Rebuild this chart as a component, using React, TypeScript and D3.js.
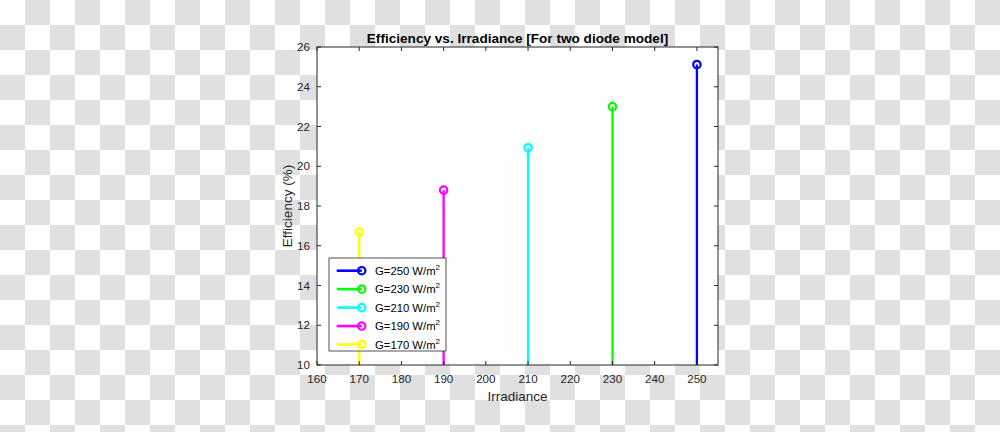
import React, { useEffect } from "react";
import * as d3 from "d3";

const irradiance = [250, 230, 210, 190, 170];
const efficiency = [25.12, 23.0, 20.93, 18.8, 16.7];
const seriesColors = ["#0000ff", "#00ff00", "#00ffff", "#ff00ff", "#ffff00"];
const legendLabels = ["G=250 W/m", "G=230 W/m", "G=210 W/m", "G=190 W/m", "G=170 W/m"];
const xTickValues = [160, 170, 180, 190, 200, 210, 220, 230, 240, 250];
const yTickValues = [10, 12, 14, 16, 18, 20, 22, 24, 26];

const W = 1000;
const H = 432;
const M = { left: 317, right: 718, top: 47, bottom: 365 };
const FONT = "'Liberation Sans', Arial, Helvetica, sans-serif";
const AX = "#262626";

export default function App() {
  useEffect(() => {
    document.body.style.margin = "0";
  }, []);

  const x = d3.scaleLinear().domain([160, 255]).range([M.left, M.right]);
  const y = d3.scaleLinear().domain([10, 26]).range([M.bottom, M.top]);
  const tick = 4;

  const legX = 329;
  const legY = 258;
  const legW = 117;
  const legH = 93;
  const rowY = (i: number) => legY + 12.7 + i * 18.45;

  return (
    <div style={{ position: "absolute", left: 0, top: 0 }}>
      <svg width={W} height={H} style={{ display: "block" }}>
        <defs>
          <pattern id="checker" width={50} height={50} patternUnits="userSpaceOnUse">
            <rect x={0} y={0} width={50} height={50} fill="#ffffff" />
            <rect x={25} y={0} width={25} height={25} fill="#e0e0e0" />
            <rect x={0} y={25} width={25} height={25} fill="#e0e0e0" />
          </pattern>
        </defs>
        <rect x={0} y={0} width={W} height={H} fill="url(#checker)" />
        <rect x={M.left} y={M.top} width={M.right - M.left} height={M.bottom - M.top} fill="#ffffff" />

        {/* stems */}
        {irradiance.map((g, i) => (
          <g key={g}>
            <line
              x1={x(g)}
              x2={x(g)}
              y1={y(10)}
              y2={y(efficiency[i])}
              stroke={seriesColors[i]}
              strokeWidth={2.3}
            />
            <circle
              cx={x(g)}
              cy={y(efficiency[i])}
              r={3.7}
              fill="none"
              stroke={seriesColors[i]}
              strokeWidth={2.2}
            />
          </g>
        ))}

        {/* axes box */}
        <rect
          x={M.left}
          y={M.top}
          width={M.right - M.left}
          height={M.bottom - M.top}
          fill="none"
          stroke={AX}
          strokeWidth={1}
        />
        {xTickValues.map((v) => (
          <g key={"xt" + v}>
            <line x1={x(v)} x2={x(v)} y1={M.bottom} y2={M.bottom - tick} stroke={AX} strokeWidth={1} />
            <line x1={x(v)} x2={x(v)} y1={M.top} y2={M.top + tick} stroke={AX} strokeWidth={1} />
            <text
              x={x(v)}
              y={383}
              textAnchor="middle"
              fontFamily={FONT}
              fontSize={11.6}
              fill={AX}
            >
              {v}
            </text>
          </g>
        ))}
        {yTickValues.map((v) => (
          <g key={"yt" + v}>
            <line x1={M.left} x2={M.left + tick} y1={y(v)} y2={y(v)} stroke={AX} strokeWidth={1} />
            <line x1={M.right} x2={M.right - tick} y1={y(v)} y2={y(v)} stroke={AX} strokeWidth={1} />
            <text
              x={310}
              y={y(v) + 4}
              textAnchor="end"
              fontFamily={FONT}
              fontSize={11.6}
              fill={AX}
            >
              {v}
            </text>
          </g>
        ))}

        {/* title and labels */}
        <text
          x={(M.left + M.right) / 2}
          y={42.5}
          textAnchor="middle"
          fontFamily={FONT}
          fontWeight="bold"
          fontSize={13.6}
          fill="#000"
        >
          Efficiency vs. Irradiance [For two diode model]
        </text>
        <text
          x={(M.left + M.right) / 2}
          y={401}
          textAnchor="middle"
          fontFamily={FONT}
          fontSize={13.5}
          fill={AX}
        >
          Irradiance
        </text>
        <text
          transform={`translate(292,${(M.top + M.bottom) / 2}) rotate(-90)`}
          textAnchor="middle"
          fontFamily={FONT}
          fontSize={13.5}
          fill={AX}
        >
          Efficiency (%)
        </text>

        {/* legend */}
        <rect x={legX} y={legY} width={legW} height={legH} fill="#ffffff" stroke={AX} strokeWidth={0.8} />
        {legendLabels.map((lab, i) => (
          <g key={lab}>
            <line
              x1={336.7}
              x2={361.7}
              y1={rowY(i)}
              y2={rowY(i)}
              stroke={seriesColors[i]}
              strokeWidth={2.6}
            />
            <circle cx={361.7} cy={rowY(i)} r={3.7} fill="none" stroke={seriesColors[i]} strokeWidth={2.2} />
            <text x={375} y={rowY(i) + 4} fontFamily={FONT} fontSize={11.3} fill="#000">
              {lab}
              <tspan dy={-5} fontSize={8}>
                2
              </tspan>
            </text>
          </g>
        ))}
      </svg>
    </div>
  );
}
